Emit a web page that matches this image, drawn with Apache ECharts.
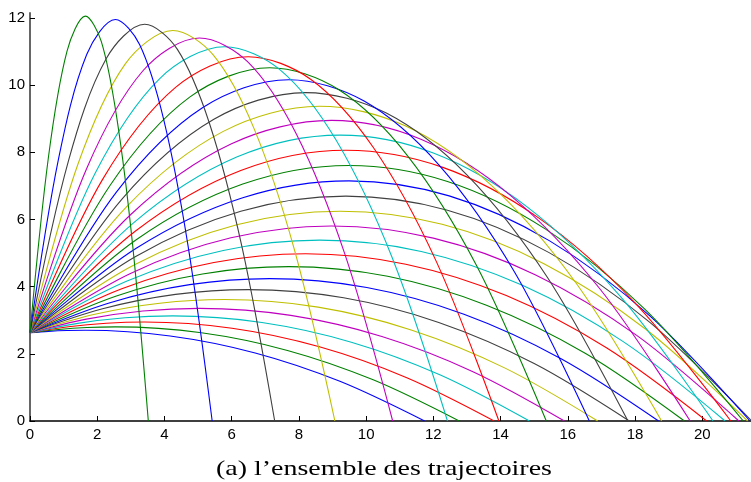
<!DOCTYPE html>
<html>
<head>
<meta charset="utf-8">
<script src="https://cdn.jsdelivr.net/npm/echarts@6/dist/echarts.min.js"></script>
<style>
  html, body { margin: 0; padding: 0; background: #fff; }
  #main { width: 751px; height: 482px; }
</style>
</head>
<body>
<div id="main"></div>
<script>
// tick labels
const xTicks = [0, 2, 4, 6, 8, 10, 12, 14, 16, 18, 20];
const yTicks = [0, 2, 4, 6, 8, 10, 12];

// launch angles (deg), lowest first
const angles = [5, 7.8, 10.5, 13.3, 16, 18.8, 21.6, 24.3, 27.1, 29.8, 32.6, 35.3, 38.1, 40.9, 43.6,
  46.4, 49.1, 51.9, 54.7, 57.4, 60.2, 62.9, 65.7, 68.4, 71.2, 74, 76.7, 79.5, 82.2, 85];

// points read along each trajectory: launch, ascent, apex, descent, landing
const trajectories = [
  [[0,2.63],[0.55,2.67],[1.10,2.694],[1.65,2.702],[4.17,2.533],[6.70,2.027],[9.22,1.182],[11.74,0]],
  [[0,2.63],[0.85,2.726],[1.69,2.784],[2.54,2.803],[5.10,2.628],[7.66,2.102],[10.21,1.226],[12.77,0]],
  [[0,2.63],[1.14,2.806],[2.27,2.911],[3.41,2.947],[6.01,2.762],[8.61,2.21],[11.21,1.289],[13.81,0]],
  [[0,2.63],[1.42,2.908],[2.83,3.075],[4.25,3.131],[6.90,2.935],[9.56,2.348],[12.21,1.37],[14.86,0]],
  [[0,2.63],[1.68,3.033],[3.36,3.274],[5.04,3.355],[7.76,3.145],[10.47,2.516],[13.18,1.468],[15.90,0]],
  [[0,2.63],[1.93,3.178],[3.86,3.506],[5.79,3.616],[8.57,3.39],[11.34,2.712],[14.12,1.582],[16.89,0]],
  [[0,2.63],[2.16,3.342],[4.33,3.77],[6.49,3.912],[9.33,3.668],[12.16,2.934],[15.00,1.712],[17.83,0]],
  [[0,2.63],[2.38,3.524],[4.75,4.061],[7.13,4.24],[10.02,3.975],[12.91,3.18],[15.80,1.855],[18.70,0]],
  [[0,2.63],[2.57,3.723],[5.13,4.379],[7.70,4.597],[10.64,4.31],[13.58,3.448],[16.53,2.011],[19.47,0]],
  [[0,2.63],[2.73,3.936],[5.47,4.719],[8.20,4.98],[11.18,4.669],[14.17,3.735],[17.15,2.179],[20.13,0]],
  [[0,2.63],[2.87,4.161],[5.75,5.079],[8.62,5.386],[11.64,5.049],[14.65,4.039],[17.66,2.356],[20.68,0]],
  [[0,2.63],[2.99,4.396],[5.98,5.456],[8.97,5.809],[12.00,5.446],[15.03,4.357],[18.06,2.542],[21.09,0]],
  [[0,2.63],[3.08,4.64],[6.15,5.846],[9.23,6.248],[12.26,5.857],[15.29,4.686],[18.32,2.733],[21.35,0]],
  [[0,2.63],[3.13,4.889],[6.27,6.245],[9.40,6.696],[12.42,6.278],[15.43,5.022],[18.45,2.93],[21.47,0]],
  [[0,2.63],[3.16,5.142],[6.33,6.649],[9.49,7.151],[12.47,6.704],[15.46,5.364],[18.44,3.129],[21.42,0]],
  [[0,2.63],[3.16,5.396],[6.33,7.055],[9.49,7.609],[12.42,7.133],[15.35,5.706],[18.29,3.329],[21.22,0]],
  [[0,2.63],[3.13,5.649],[6.27,7.46],[9.40,8.064],[12.26,7.56],[15.13,6.048],[17.99,3.528],[20.85,0]],
  [[0,2.63],[3.08,5.898],[6.15,7.859],[9.23,8.513],[12.00,7.98],[14.78,6.384],[17.55,3.724],[20.32,0]],
  [[0,2.63],[2.99,6.142],[5.98,8.249],[8.97,8.951],[11.63,8.391],[14.30,6.713],[16.97,3.916],[19.64,0]],
  [[0,2.63],[2.87,6.377],[5.75,8.625],[8.62,9.374],[11.16,8.789],[13.71,7.031],[16.25,4.101],[18.79,0]],
  [[0,2.63],[2.73,6.602],[5.47,8.985],[8.20,9.78],[10.60,9.169],[12.99,7.335],[15.39,4.279],[17.79,0]],
  [[0,2.63],[2.57,6.815],[5.13,9.326],[7.70,10.163],[9.94,9.528],[12.17,7.622],[14.41,4.446],[16.64,0]],
  [[0,2.63],[2.38,7.014],[4.75,9.644],[7.13,10.52],[9.19,9.863],[11.24,7.89],[13.30,4.603],[15.36,0]],
  [[0,2.63],[2.16,7.196],[4.33,9.935],[6.49,10.848],[8.36,10.17],[10.22,8.136],[12.09,4.746],[13.95,0]],
  [[0,2.63],[1.93,7.361],[3.86,10.198],[5.79,11.144],[7.45,10.448],[9.11,8.358],[10.77,4.876],[12.42,0]],
  [[0,2.63],[1.68,7.506],[3.36,10.43],[5.04,11.405],[6.48,10.692],[7.92,8.554],[9.36,4.99],[10.79,0]],
  [[0,2.63],[1.42,7.63],[2.83,10.629],[4.25,11.629],[5.45,10.902],[6.66,8.722],[7.87,5.088],[9.07,0]],
  [[0,2.63],[1.14,7.732],[2.27,10.793],[3.41,11.814],[4.38,11.075],[5.34,8.86],[6.31,5.168],[7.28,0]],
  [[0,2.63],[0.85,7.812],[1.69,10.921],[2.54,11.957],[3.26,11.21],[3.98,8.968],[4.70,5.231],[5.42,0]],
  [[0,2.63],[0.55,7.868],[1.10,11.01],[1.65,12.058],[2.12,11.304],[2.58,9.043],[3.05,5.275],[3.52,0]]
];

const caption = '(a) l\u2019ensemble des trajectoires';

// matlab colour order
const palette = ['#0000ff', '#008000', '#ff0000', '#00bfbf', '#bf00bf', '#bfbf00', '#404040'];

const chart = echarts.init(document.getElementById('main'), null, { renderer: 'canvas' });

const labelStyle = { fontFamily: 'Liberation Sans, Arial, sans-serif', fontSize: 15, color: '#000' };

const option = {
  animation: false,
  backgroundColor: '#fff',
  grid: { left: 30, right: 0, top: 13, bottom: 61, containLabel: false },
  xAxis: {
    type: 'value',
    min: 0,
    max: 21.45,
    axisLine: { show: true, onZero: false, lineStyle: { color: '#000', width: 1.5 } },
    axisTick: { show: true, inside: true, length: 5, customValues: xTicks, lineStyle: { color: '#000' } },
    axisLabel: Object.assign({ margin: 6, customValues: xTicks }, labelStyle),
    splitLine: { show: false }
  },
  yAxis: {
    type: 'value',
    min: 0,
    max: 12.15,
    axisLine: { show: true, onZero: false, lineStyle: { color: '#666', width: 2 } },
    axisTick: { show: true, inside: true, length: 5, customValues: yTicks, lineStyle: { color: '#000' } },
    axisLabel: Object.assign({ margin: 5, customValues: yTicks }, labelStyle),
    splitLine: { show: false }
  },
  graphic: [{
    type: 'text',
    x: 384,
    y: 469,
    scaleX: 1.27,
    style: {
      text: caption,
      x: 0,
      y: 0,
      align: 'center',
      verticalAlign: 'middle',
      font: '22px "Liberation Serif", serif',
      fill: '#000'
    }
  }],
  series: trajectories.map((pts, i) => ({
    name: angles[i] + '\u00b0',
    type: 'line',
    data: pts,
    smooth: 0.33,
    showSymbol: false,
    silent: true,
    clip: true,
    lineStyle: { color: palette[i % palette.length], width: 1.1 }
  }))
};

chart.setOption(option);
</script>
</body>
</html>
